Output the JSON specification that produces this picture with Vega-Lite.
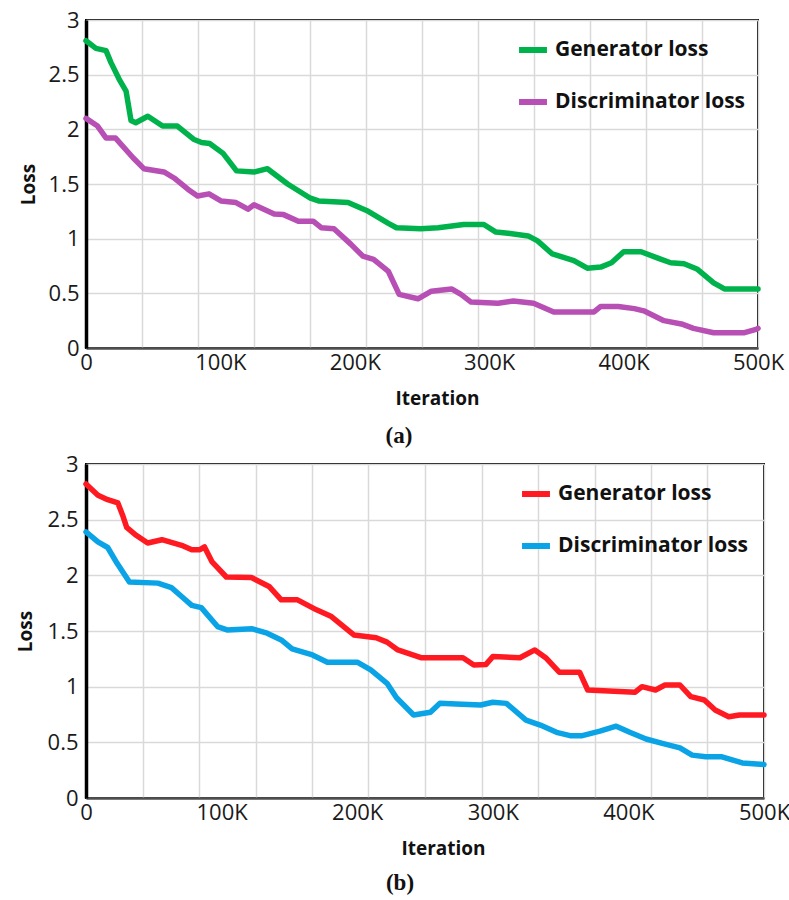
{
  "$schema": "https://vega.github.io/schema/vega-lite/v6.json",
  "background": "white",
  "padding": {"left": 15, "top": 8, "right": 5, "bottom": 5},
  "spacing": 3,
  "config": {
    "font": "Open Sans",
    "view": {"stroke": "black", "strokeWidth": 2},
    "axis": {
      "labelFont": "Open Sans",
      "labelFontSize": 22,
      "labelColor": "#1a1a1a",
      "titleFont": "Open Sans",
      "titleFontSize": 19,
      "titleFontWeight": "bold",
      "titleColor": "#111",
      "ticks": false,
      "labelFlush": false,
      "gridColor": "#d9d9d9",
      "gridWidth": 1.5
    },
    "title": {"font": "Liberation Serif", "fontSize": 23, "fontWeight": "bold", "color": "#111"}
  },
  "datasets": {
    "a": [
      {"series": "Generator loss", "iter": 0, "loss": 2.81},
      {"series": "Generator loss", "iter": 7400, "loss": 2.74},
      {"series": "Generator loss", "iter": 14900, "loss": 2.72},
      {"series": "Generator loss", "iter": 18600, "loss": 2.61},
      {"series": "Generator loss", "iter": 24600, "loss": 2.46},
      {"series": "Generator loss", "iter": 29800, "loss": 2.35},
      {"series": "Generator loss", "iter": 33500, "loss": 2.08},
      {"series": "Generator loss", "iter": 37000, "loss": 2.06},
      {"series": "Generator loss", "iter": 46000, "loss": 2.12},
      {"series": "Generator loss", "iter": 57000, "loss": 2.03},
      {"series": "Generator loss", "iter": 68000, "loss": 2.03},
      {"series": "Generator loss", "iter": 80000, "loss": 1.91},
      {"series": "Generator loss", "iter": 86000, "loss": 1.88},
      {"series": "Generator loss", "iter": 92000, "loss": 1.87},
      {"series": "Generator loss", "iter": 102000, "loss": 1.78},
      {"series": "Generator loss", "iter": 112000, "loss": 1.62},
      {"series": "Generator loss", "iter": 125000, "loss": 1.61},
      {"series": "Generator loss", "iter": 135000, "loss": 1.64},
      {"series": "Generator loss", "iter": 150000, "loss": 1.5},
      {"series": "Generator loss", "iter": 167000, "loss": 1.37},
      {"series": "Generator loss", "iter": 173000, "loss": 1.345},
      {"series": "Generator loss", "iter": 195000, "loss": 1.33},
      {"series": "Generator loss", "iter": 210000, "loss": 1.25},
      {"series": "Generator loss", "iter": 225000, "loss": 1.14},
      {"series": "Generator loss", "iter": 231000, "loss": 1.1},
      {"series": "Generator loss", "iter": 249000, "loss": 1.09},
      {"series": "Generator loss", "iter": 262000, "loss": 1.1},
      {"series": "Generator loss", "iter": 281000, "loss": 1.13},
      {"series": "Generator loss", "iter": 296000, "loss": 1.13},
      {"series": "Generator loss", "iter": 305000, "loss": 1.06},
      {"series": "Generator loss", "iter": 314000, "loss": 1.05},
      {"series": "Generator loss", "iter": 329000, "loss": 1.025},
      {"series": "Generator loss", "iter": 336000, "loss": 0.98},
      {"series": "Generator loss", "iter": 347000, "loss": 0.86},
      {"series": "Generator loss", "iter": 363000, "loss": 0.8},
      {"series": "Generator loss", "iter": 373000, "loss": 0.73},
      {"series": "Generator loss", "iter": 383000, "loss": 0.74},
      {"series": "Generator loss", "iter": 391000, "loss": 0.78},
      {"series": "Generator loss", "iter": 400000, "loss": 0.88},
      {"series": "Generator loss", "iter": 413000, "loss": 0.88},
      {"series": "Generator loss", "iter": 426000, "loss": 0.82},
      {"series": "Generator loss", "iter": 435000, "loss": 0.78},
      {"series": "Generator loss", "iter": 445000, "loss": 0.77},
      {"series": "Generator loss", "iter": 455000, "loss": 0.72},
      {"series": "Generator loss", "iter": 467000, "loss": 0.595},
      {"series": "Generator loss", "iter": 475000, "loss": 0.54},
      {"series": "Generator loss", "iter": 500000, "loss": 0.54},
      {"series": "Discriminator loss", "iter": 0, "loss": 2.1},
      {"series": "Discriminator loss", "iter": 8600, "loss": 2.03},
      {"series": "Discriminator loss", "iter": 15000, "loss": 1.92},
      {"series": "Discriminator loss", "iter": 22000, "loss": 1.92},
      {"series": "Discriminator loss", "iter": 35000, "loss": 1.74},
      {"series": "Discriminator loss", "iter": 43000, "loss": 1.64},
      {"series": "Discriminator loss", "iter": 58000, "loss": 1.61},
      {"series": "Discriminator loss", "iter": 65500, "loss": 1.555},
      {"series": "Discriminator loss", "iter": 76000, "loss": 1.45},
      {"series": "Discriminator loss", "iter": 83000, "loss": 1.39},
      {"series": "Discriminator loss", "iter": 91500, "loss": 1.41},
      {"series": "Discriminator loss", "iter": 100400, "loss": 1.345},
      {"series": "Discriminator loss", "iter": 111600, "loss": 1.33},
      {"series": "Discriminator loss", "iter": 120500, "loss": 1.27},
      {"series": "Discriminator loss", "iter": 125000, "loss": 1.31},
      {"series": "Discriminator loss", "iter": 140000, "loss": 1.225},
      {"series": "Discriminator loss", "iter": 147000, "loss": 1.22},
      {"series": "Discriminator loss", "iter": 158000, "loss": 1.16},
      {"series": "Discriminator loss", "iter": 169000, "loss": 1.16},
      {"series": "Discriminator loss", "iter": 175000, "loss": 1.1},
      {"series": "Discriminator loss", "iter": 184500, "loss": 1.09},
      {"series": "Discriminator loss", "iter": 197000, "loss": 0.95},
      {"series": "Discriminator loss", "iter": 206000, "loss": 0.84},
      {"series": "Discriminator loss", "iter": 214000, "loss": 0.81},
      {"series": "Discriminator loss", "iter": 225000, "loss": 0.7},
      {"series": "Discriminator loss", "iter": 233000, "loss": 0.49},
      {"series": "Discriminator loss", "iter": 247000, "loss": 0.45},
      {"series": "Discriminator loss", "iter": 257000, "loss": 0.52},
      {"series": "Discriminator loss", "iter": 272000, "loss": 0.54},
      {"series": "Discriminator loss", "iter": 279000, "loss": 0.49},
      {"series": "Discriminator loss", "iter": 286500, "loss": 0.42},
      {"series": "Discriminator loss", "iter": 306500, "loss": 0.41},
      {"series": "Discriminator loss", "iter": 318000, "loss": 0.43},
      {"series": "Discriminator loss", "iter": 333000, "loss": 0.41},
      {"series": "Discriminator loss", "iter": 348000, "loss": 0.33},
      {"series": "Discriminator loss", "iter": 378000, "loss": 0.33},
      {"series": "Discriminator loss", "iter": 383000, "loss": 0.38},
      {"series": "Discriminator loss", "iter": 396000, "loss": 0.38},
      {"series": "Discriminator loss", "iter": 408000, "loss": 0.36},
      {"series": "Discriminator loss", "iter": 415000, "loss": 0.34},
      {"series": "Discriminator loss", "iter": 430000, "loss": 0.25},
      {"series": "Discriminator loss", "iter": 443000, "loss": 0.22},
      {"series": "Discriminator loss", "iter": 452000, "loss": 0.18},
      {"series": "Discriminator loss", "iter": 467000, "loss": 0.14},
      {"series": "Discriminator loss", "iter": 490000, "loss": 0.14},
      {"series": "Discriminator loss", "iter": 498500, "loss": 0.17},
      {"series": "Discriminator loss", "iter": 500000, "loss": 0.18}
    ],
    "b": [
      {"series": "Generator loss", "iter": 0, "loss": 2.82},
      {"series": "Generator loss", "iter": 8800, "loss": 2.72},
      {"series": "Generator loss", "iter": 16000, "loss": 2.68},
      {"series": "Generator loss", "iter": 23500, "loss": 2.65},
      {"series": "Generator loss", "iter": 27000, "loss": 2.54},
      {"series": "Generator loss", "iter": 30000, "loss": 2.43},
      {"series": "Generator loss", "iter": 37000, "loss": 2.36},
      {"series": "Generator loss", "iter": 45500, "loss": 2.29},
      {"series": "Generator loss", "iter": 56000, "loss": 2.32},
      {"series": "Generator loss", "iter": 70500, "loss": 2.27},
      {"series": "Generator loss", "iter": 78000, "loss": 2.23},
      {"series": "Generator loss", "iter": 84000, "loss": 2.23},
      {"series": "Generator loss", "iter": 87400, "loss": 2.255},
      {"series": "Generator loss", "iter": 93000, "loss": 2.12},
      {"series": "Generator loss", "iter": 103500, "loss": 1.985},
      {"series": "Generator loss", "iter": 122000, "loss": 1.98},
      {"series": "Generator loss", "iter": 135000, "loss": 1.9},
      {"series": "Generator loss", "iter": 144000, "loss": 1.78},
      {"series": "Generator loss", "iter": 156000, "loss": 1.78},
      {"series": "Generator loss", "iter": 170000, "loss": 1.69},
      {"series": "Generator loss", "iter": 181000, "loss": 1.63},
      {"series": "Generator loss", "iter": 197500, "loss": 1.465},
      {"series": "Generator loss", "iter": 214000, "loss": 1.44},
      {"series": "Generator loss", "iter": 222000, "loss": 1.4},
      {"series": "Generator loss", "iter": 230000, "loss": 1.33},
      {"series": "Generator loss", "iter": 247000, "loss": 1.26},
      {"series": "Generator loss", "iter": 278000, "loss": 1.26},
      {"series": "Generator loss", "iter": 286000, "loss": 1.195},
      {"series": "Generator loss", "iter": 295000, "loss": 1.2},
      {"series": "Generator loss", "iter": 300000, "loss": 1.27},
      {"series": "Generator loss", "iter": 320000, "loss": 1.26},
      {"series": "Generator loss", "iter": 331000, "loss": 1.33},
      {"series": "Generator loss", "iter": 339000, "loss": 1.26},
      {"series": "Generator loss", "iter": 349000, "loss": 1.13},
      {"series": "Generator loss", "iter": 364000, "loss": 1.13},
      {"series": "Generator loss", "iter": 370000, "loss": 0.97},
      {"series": "Generator loss", "iter": 405000, "loss": 0.95},
      {"series": "Generator loss", "iter": 410000, "loss": 1.0},
      {"series": "Generator loss", "iter": 420000, "loss": 0.97},
      {"series": "Generator loss", "iter": 427000, "loss": 1.015},
      {"series": "Generator loss", "iter": 438000, "loss": 1.015},
      {"series": "Generator loss", "iter": 446000, "loss": 0.91},
      {"series": "Generator loss", "iter": 456000, "loss": 0.88},
      {"series": "Generator loss", "iter": 464000, "loss": 0.79},
      {"series": "Generator loss", "iter": 474000, "loss": 0.73},
      {"series": "Generator loss", "iter": 482000, "loss": 0.745},
      {"series": "Generator loss", "iter": 500000, "loss": 0.745},
      {"series": "Discriminator loss", "iter": 0, "loss": 2.39},
      {"series": "Discriminator loss", "iter": 8800, "loss": 2.3},
      {"series": "Discriminator loss", "iter": 16000, "loss": 2.25},
      {"series": "Discriminator loss", "iter": 22800, "loss": 2.11},
      {"series": "Discriminator loss", "iter": 32000, "loss": 1.94},
      {"series": "Discriminator loss", "iter": 53000, "loss": 1.93},
      {"series": "Discriminator loss", "iter": 63000, "loss": 1.89},
      {"series": "Discriminator loss", "iter": 70500, "loss": 1.81},
      {"series": "Discriminator loss", "iter": 78000, "loss": 1.73},
      {"series": "Discriminator loss", "iter": 85000, "loss": 1.71},
      {"series": "Discriminator loss", "iter": 97000, "loss": 1.54},
      {"series": "Discriminator loss", "iter": 104000, "loss": 1.51},
      {"series": "Discriminator loss", "iter": 122600, "loss": 1.52},
      {"series": "Discriminator loss", "iter": 133600, "loss": 1.48},
      {"series": "Discriminator loss", "iter": 144000, "loss": 1.42},
      {"series": "Discriminator loss", "iter": 152000, "loss": 1.34},
      {"series": "Discriminator loss", "iter": 167000, "loss": 1.285},
      {"series": "Discriminator loss", "iter": 178000, "loss": 1.22},
      {"series": "Discriminator loss", "iter": 200000, "loss": 1.22},
      {"series": "Discriminator loss", "iter": 210000, "loss": 1.15},
      {"series": "Discriminator loss", "iter": 222000, "loss": 1.03},
      {"series": "Discriminator loss", "iter": 229000, "loss": 0.9},
      {"series": "Discriminator loss", "iter": 241600, "loss": 0.745},
      {"series": "Discriminator loss", "iter": 254000, "loss": 0.77},
      {"series": "Discriminator loss", "iter": 261000, "loss": 0.85},
      {"series": "Discriminator loss", "iter": 273000, "loss": 0.845},
      {"series": "Discriminator loss", "iter": 291000, "loss": 0.835},
      {"series": "Discriminator loss", "iter": 300000, "loss": 0.86},
      {"series": "Discriminator loss", "iter": 310000, "loss": 0.85},
      {"series": "Discriminator loss", "iter": 324500, "loss": 0.7},
      {"series": "Discriminator loss", "iter": 335000, "loss": 0.655},
      {"series": "Discriminator loss", "iter": 347000, "loss": 0.59},
      {"series": "Discriminator loss", "iter": 357000, "loss": 0.56},
      {"series": "Discriminator loss", "iter": 366000, "loss": 0.56},
      {"series": "Discriminator loss", "iter": 379000, "loss": 0.6},
      {"series": "Discriminator loss", "iter": 391000, "loss": 0.645},
      {"series": "Discriminator loss", "iter": 401000, "loss": 0.59},
      {"series": "Discriminator loss", "iter": 413000, "loss": 0.53},
      {"series": "Discriminator loss", "iter": 425000, "loss": 0.49},
      {"series": "Discriminator loss", "iter": 438000, "loss": 0.45},
      {"series": "Discriminator loss", "iter": 447000, "loss": 0.385},
      {"series": "Discriminator loss", "iter": 457000, "loss": 0.37},
      {"series": "Discriminator loss", "iter": 469000, "loss": 0.37},
      {"series": "Discriminator loss", "iter": 484000, "loss": 0.315},
      {"series": "Discriminator loss", "iter": 500000, "loss": 0.3}
    ]
  },
  "vconcat": [
    {
      "width": 672,
      "height": 328,
      "data": {"name": "a"},
      "title": {"text": "(a)", "orient": "bottom", "dx": -23, "offset": 17},
      "layer": [
        {
          "mark": {"type": "line", "strokeWidth": 5.5, "strokeJoin": "round", "strokeCap": "round"},
          "encoding": {
            "x": {"field": "iter", "type": "quantitative", "scale": {"domain": [0, 500000], "nice": false, "zero": false},
              "axis": {"values": [0, 41667, 83333, 125000, 166667, 208333, 250000, 291667, 333333, 375000, 416667, 458333, 500000], "grid": true, "labels": false, "domain": false, "title": null}},
            "y": {"field": "loss", "type": "quantitative", "scale": {"domain": [0, 3], "nice": false},
              "axis": {"values": [0, 0.5, 1, 1.5, 2, 2.5, 3], "format": "~g", "grid": true, "title": "Loss", "domainColor": "black", "domainWidth": 3.5, "labelPadding": 7, "titlePadding": 10}},
            "color": {"field": "series", "type": "nominal",
              "scale": {"domain": ["Generator loss", "Discriminator loss"], "range": ["#00B24C", "#B74FB4"]},
              "legend": {"orient": "none", "legendX": 430, "legendY": 13, "title": null, "symbolType": "stroke", "symbolStrokeWidth": 6, "symbolSize": 780, "labelFontSize": 21, "labelFontWeight": "bold", "labelFont": "Open Sans", "labelColor": "#111", "labelLimit": 0, "rowPadding": 23, "labelOffset": 5}}
          }
        },
        {
          "mark": {"type": "point", "opacity": 0},
          "encoding": {
            "x": {"field": "iter", "type": "quantitative",
              "axis": {"orient": "bottom", "values": [0, 100000, 200000, 300000, 400000, 500000], "grid": false, "labelExpr": "datum.value == 0 ? '0' : (datum.value / 1000) + 'K'", "title": "Iteration", "titleX": 351, "domainColor": "#505050", "domainWidth": 2.5, "labelPadding": 4, "titlePadding": 16}},
            "y": {"field": "loss", "type": "quantitative", "axis": null}
          }
        }
      ],
      "resolve": {"axis": {"x": "independent", "y": "independent"}}
    },
    {
      "width": 678,
      "height": 334,
      "data": {"name": "b"},
      "title": {"text": "(b)", "orient": "bottom", "dx": -25, "offset": 14},
      "layer": [
        {
          "mark": {"type": "line", "strokeWidth": 5.5, "strokeJoin": "round", "strokeCap": "round"},
          "encoding": {
            "x": {"field": "iter", "type": "quantitative", "scale": {"domain": [0, 500000], "nice": false, "zero": false},
              "axis": {"values": [0, 41667, 83333, 125000, 166667, 208333, 250000, 291667, 333333, 375000, 416667, 458333, 500000], "grid": true, "labels": false, "domain": false, "title": null}},
            "y": {"field": "loss", "type": "quantitative", "scale": {"domain": [0, 3], "nice": false},
              "axis": {"values": [0, 0.5, 1, 1.5, 2, 2.5, 3], "format": "~g", "grid": true, "title": "Loss", "domainColor": "black", "domainWidth": 3.5, "labelPadding": 8, "titlePadding": 12}},
            "color": {"field": "series", "type": "nominal",
              "scale": {"domain": ["Generator loss", "Discriminator loss"], "range": ["#FF1A22", "#0AA3E6"]},
              "legend": {"orient": "none", "legendX": 433, "legendY": 13, "title": null, "symbolType": "stroke", "symbolStrokeWidth": 6, "symbolSize": 780, "labelFontSize": 21, "labelFontWeight": "bold", "labelFont": "Open Sans", "labelColor": "#111", "labelLimit": 0, "rowPadding": 23, "labelOffset": 5}}
          }
        },
        {
          "mark": {"type": "point", "opacity": 0},
          "encoding": {
            "x": {"field": "iter", "type": "quantitative",
              "axis": {"orient": "bottom", "values": [0, 100000, 200000, 300000, 400000, 500000], "grid": false, "labelExpr": "datum.value == 0 ? '0' : (datum.value / 1000) + 'K'", "title": "Iteration", "titleX": 357, "domainColor": "#505050", "domainWidth": 2.5, "labelPadding": 4, "titlePadding": 16}},
            "y": {"field": "loss", "type": "quantitative", "axis": null}
          }
        }
      ],
      "resolve": {"axis": {"x": "independent", "y": "independent"}}
    }
  ],
  "resolve": {"scale": {"color": "independent"}}
}
